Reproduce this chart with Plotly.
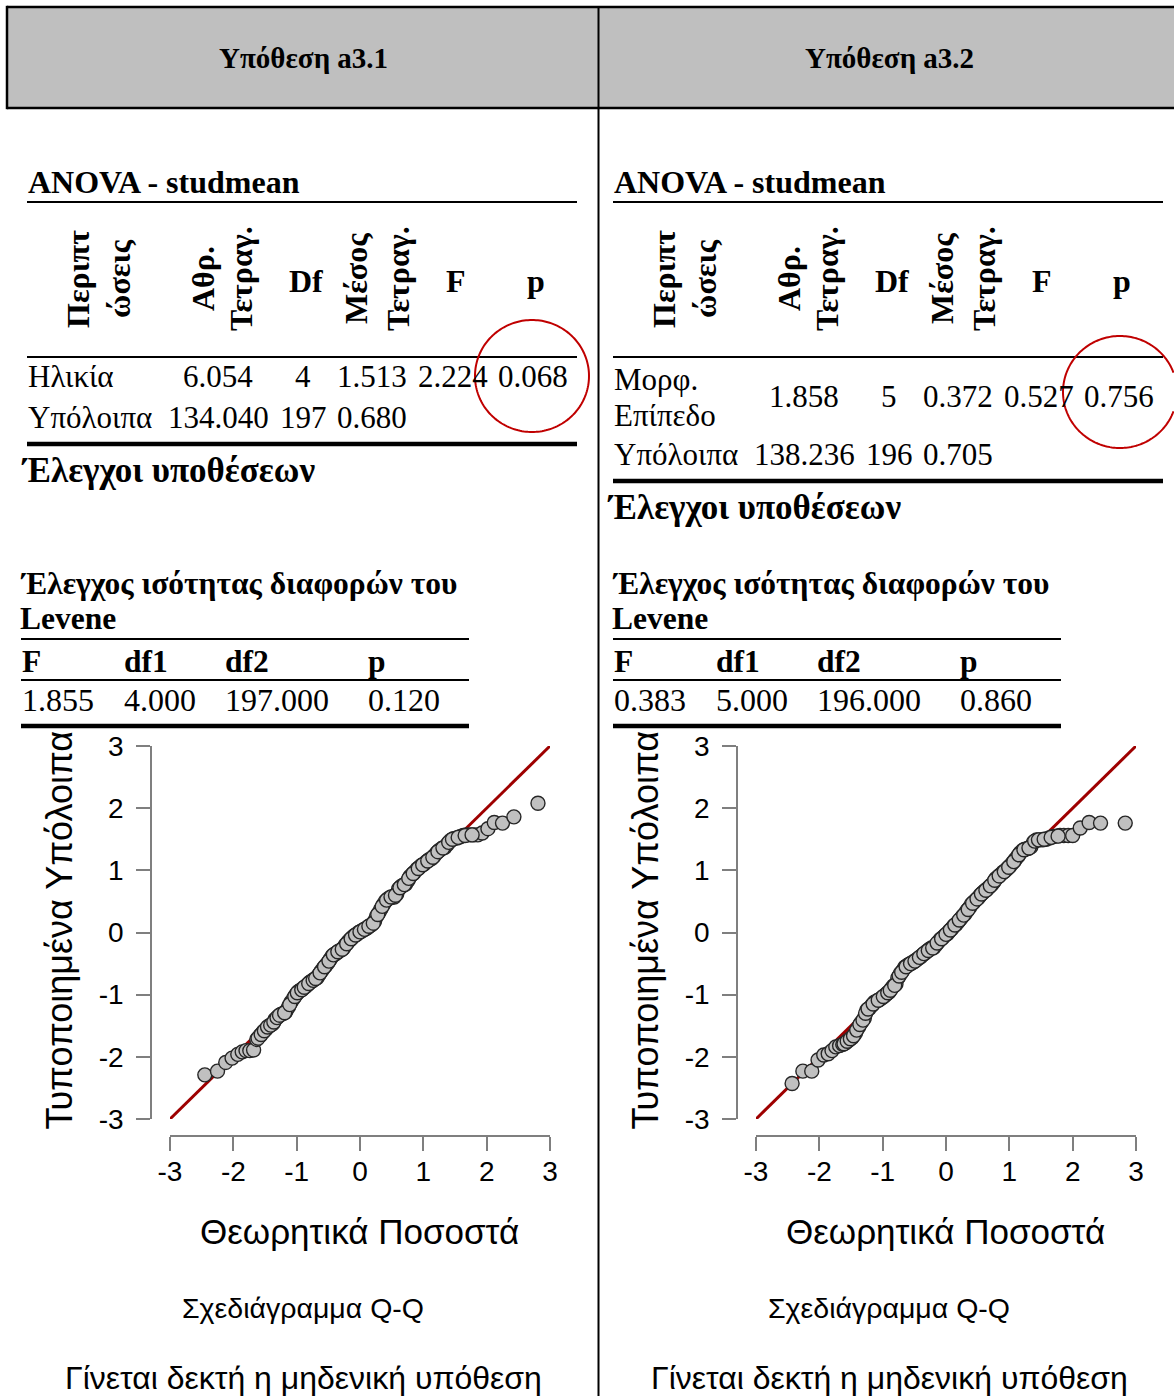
import math
import plotly.graph_objects as go

W, H = 1174, 1396
def X(px): return px / W
def Y(py): return 1 - py / H

SERIF = "Liberation Serif, Times New Roman, serif"
SANS = "Liberation Sans, Arial, sans-serif"

# ---------------- data ----------------
hyp_titles = ["Υπόθεση a3.1", "Υπόθεση a3.2"]
anova_title = "ANOVA - studmean"
anova_cols = [["Περιπτ", "ώσεις"], ["Αθρ.", "Τετραγ."], ["Df"], ["Μέσος", "Τετραγ."], ["F"], ["p"]]
anova1_rows = [["Ηλικία", "6.054", "4", "1.513", "2.224", "0.068"],
               ["Υπόλοιπα", "134.040", "197", "0.680", "", ""]]
anova2_rows = [["Μορφ.\nΕπίπεδο", "1.858", "5", "0.372", "0.527", "0.756"],
               ["Υπόλοιπα", "138.236", "196", "0.705", "", ""]]
tests_title = "Έλεγχοι υποθέσεων"
levene_title = ["Έλεγχος ισότητας διαφορών του", "Levene"]
levene_cols = ["F", "df1", "df2", "p"]
levene1 = ["1.855", "4.000", "197.000", "0.120"]
levene2 = ["0.383", "5.000", "196.000", "0.860"]
tick_vals = [-3, -2, -1, 0, 1, 2, 3]
tick_text = ["-3", "-2", "-1", "0", "1", "2", "3"]
x_title = "Θεωρητικά Ποσοστά"
y_title = "Τυποποιημένα Υπόλοιπα"
plot_caption = "Σχεδιάγραμμα Q-Q"
conclusion = "Γίνεται δεκτή η μηδενική υπόθεση"

theo_a31 = [-2.45, -2.25, -2.12, -2.02, -1.93, -1.86, -1.80, -1.74, -1.68, -1.63, -1.58, -1.53, -1.48,
            -1.43, -1.38, -1.34, -1.29, -1.25, -1.21, -1.17, -1.13, -1.09, -1.05, -1.01, -0.97, -0.94,
            -0.90, -0.86, -0.83, -0.79, -0.76, -0.72, -0.68, -0.65, -0.61, -0.58, -0.54, -0.51, -0.47,
            -0.44, -0.40, -0.37, -0.33, -0.30, -0.26, -0.23, -0.19, -0.16, -0.12, -0.09, -0.05, -0.02,
            0.02, 0.05, 0.09, 0.12, 0.16, 0.19, 0.23, 0.26, 0.30, 0.33, 0.37, 0.40, 0.44, 0.47, 0.51,
            0.54, 0.58, 0.61, 0.65, 0.68, 0.72, 0.76, 0.79, 0.83, 0.86, 0.90, 0.94, 0.97, 1.01, 1.05,
            1.09, 1.13, 1.17, 1.21, 1.25, 1.29, 1.34, 1.38, 1.43, 1.48, 1.53, 1.58, 1.63, 1.68, 1.74,
            1.80, 1.86, 1.93, 2.02, 2.12, 2.25, 2.43, 2.81,
            -1.61, -1.56, -1.51, -1.46, -1.41, -1.36, -1.31, -1.27, -1.19, -1.11, -1.03, -0.99, -0.92,
            -0.88, -0.81, -0.74, -0.70, -0.63, -0.56, -0.49, -0.42, -0.35, -0.28, -0.21, -0.14, -0.07,
            0.00, 0.07, 0.14, 0.21, 0.28, 0.35, 0.42, 0.49, 0.56, 0.63, 0.70, 0.77, 0.84, 0.92, 0.99,
            1.07, 1.15, 1.23, 1.31, 1.40, 1.46, 1.55, 1.66, 1.77]
resid_a31 = [-2.29, -2.23, -2.09, -2.02, -1.96, -1.92, -1.90, -1.90, -1.89, -1.72, -1.66, -1.60, -1.55,
             -1.50, -1.47, -1.40, -1.35, -1.32, -1.30, -1.27, -1.20, -1.12, -1.06, -1.00, -0.95, -0.93,
             -0.90, -0.87, -0.84, -0.80, -0.78, -0.75, -0.73, -0.68, -0.62, -0.58, -0.53, -0.49, -0.43,
             -0.38, -0.35, -0.33, -0.30, -0.28, -0.25, -0.20, -0.15, -0.12, -0.08, -0.05, -0.03, 0.00,
             0.02, 0.04, 0.06, 0.08, 0.11, 0.13, 0.18, 0.26, 0.32, 0.38, 0.45, 0.50, 0.54, 0.56, 0.57,
             0.57, 0.62, 0.70, 0.74, 0.76, 0.78, 0.84, 0.90, 0.94, 0.97, 1.02, 1.05, 1.08, 1.10, 1.14,
             1.17, 1.19, 1.23, 1.28, 1.32, 1.35, 1.37, 1.42, 1.48, 1.51, 1.52, 1.54, 1.56, 1.57, 1.57,
             1.57, 1.57, 1.60, 1.67, 1.77, 1.76, 1.86, 2.08,
             -1.70, -1.64, -1.58, -1.52, -1.49, -1.44, -1.37, -1.33, -1.29, -1.16, -1.03, -0.97, -0.92,
             -0.88, -0.82, -0.77, -0.74, -0.65, -0.55, -0.46, -0.36, -0.31, -0.27, -0.18, -0.10, -0.04,
             0.01, 0.05, 0.10, 0.15, 0.29, 0.42, 0.52, 0.57, 0.60, 0.72, 0.77, 0.87, 0.95, 1.03, 1.09,
             1.15, 1.21, 1.30, 1.36, 1.45, 1.50, 1.53, 1.56, 1.57]

theo_a32 = [-2.43, -2.26, -2.12, -2.02, -1.93, -1.86, -1.80, -1.74, -1.68, -1.63, -1.58, -1.53, -1.48,
            -1.43, -1.38, -1.34, -1.29, -1.25, -1.21, -1.17, -1.13, -1.09, -1.05, -1.01, -0.97, -0.94,
            -0.90, -0.86, -0.83, -0.79, -0.76, -0.72, -0.68, -0.65, -0.61, -0.58, -0.54, -0.51, -0.47,
            -0.44, -0.40, -0.37, -0.33, -0.30, -0.26, -0.23, -0.19, -0.16, -0.12, -0.09, -0.05, -0.02,
            0.02, 0.05, 0.09, 0.12, 0.16, 0.19, 0.23, 0.26, 0.30, 0.33, 0.37, 0.40, 0.44, 0.47, 0.51,
            0.54, 0.58, 0.61, 0.65, 0.68, 0.72, 0.76, 0.79, 0.83, 0.86, 0.90, 0.94, 0.97, 1.01, 1.05,
            1.09, 1.13, 1.17, 1.21, 1.25, 1.29, 1.34, 1.38, 1.43, 1.48, 1.53, 1.58, 1.63, 1.68, 1.74,
            1.80, 1.86, 1.93, 2.00, 2.12, 2.26, 2.44, 2.83,
            -1.61, -1.56, -1.51, -1.46, -1.41, -1.36, -1.31, -1.27, -1.23, -1.15, -1.07, -0.99, -0.92,
            -0.88, -0.81, -0.74, -0.70, -0.63, -0.56, -0.49, -0.42, -0.35, -0.28, -0.21, -0.14, -0.07,
            0.00, 0.07, 0.14, 0.21, 0.28, 0.35, 0.42, 0.49, 0.56, 0.63, 0.70, 0.77, 0.84, 0.92, 0.99,
            1.07, 1.15, 1.23, 1.31, 1.40, 1.46, 1.55, 1.66, 1.77]
resid_a32 = [-2.43, -2.23, -2.23, -2.05, -1.97, -1.95, -1.90, -1.84, -1.82, -1.80, -1.77, -1.73, -1.69,
             -1.62, -1.52, -1.45, -1.38, -1.25, -1.22, -1.17, -1.12, -1.10, -1.08, -1.05, -1.02, -0.99,
             -0.96, -0.90, -0.86, -0.83, -0.73, -0.66, -0.61, -0.56, -0.53, -0.51, -0.49, -0.47, -0.44,
             -0.42, -0.39, -0.36, -0.33, -0.30, -0.27, -0.25, -0.24, -0.20, -0.15, -0.11, -0.08, -0.05,
             -0.02, 0.02, 0.06, 0.10, 0.13, 0.17, 0.22, 0.26, 0.30, 0.35, 0.40, 0.45, 0.49, 0.52, 0.56,
             0.60, 0.64, 0.67, 0.70, 0.73, 0.77, 0.82, 0.87, 0.90, 0.93, 0.97, 1.00, 1.03, 1.07, 1.12,
             1.17, 1.22, 1.28, 1.32, 1.34, 1.35, 1.38, 1.45, 1.49, 1.49, 1.49, 1.50, 1.52, 1.54, 1.55,
             1.56, 1.56, 1.56, 1.56, 1.68, 1.77, 1.76, 1.76,
             -1.79, -1.75, -1.71, -1.66, -1.57, -1.48, -1.41, -1.30, -1.23, -1.15, -1.09, -1.03, -0.97,
             -0.93, -0.85, -0.70, -0.64, -0.55, -0.50, -0.46, -0.40, -0.34, -0.29, -0.25, -0.17, -0.10,
             -0.03, 0.04, 0.12, 0.20, 0.28, 0.37, 0.47, 0.54, 0.62, 0.68, 0.75, 0.84, 0.91, 0.98, 1.05,
             1.14, 1.25, 1.33, 1.36, 1.47, 1.49, 1.50, 1.53, 1.55]

# ---------------- figure ----------------
fig = go.Figure()
shapes = []
ann = []

def text(px, py, s, size, family=SERIF, bold=False, xanchor="left", yanchor="middle", angle=0):
    if bold:
        s = "<b>" + s + "</b>"
    ann.append(dict(x=X(px), y=Y(py), xref="paper", yref="paper", text=s, showarrow=False,
                    xanchor=xanchor, yanchor=yanchor, textangle=angle,
                    font=dict(family=family, size=size, color="black")))

def line(x0, y0, x1, y1, w, color="black"):
    shapes.append(dict(type="line", xref="paper", yref="paper", x0=X(x0), x1=X(x1), y0=Y(y0), y1=Y(y1),
                       line=dict(color=color, width=w)))

def hline(x0, x1, py, w):
    line(x0, py, x1, py, w)

def ellipse_path(cx, cy, rx, ry, xmax):
    n = 180
    if cx + rx <= xmax:
        angs = [2 * math.pi * i / n for i in range(n + 1)]
    else:
        t0 = math.acos((xmax - cx) / rx)
        angs = [t0 + (2 * math.pi - 2 * t0) * i / n for i in range(n + 1)]
    pts = [(X(cx + rx * math.cos(a)), Y(cy + ry * math.sin(a))) for a in angs]
    return "M " + " L ".join(f"{px:.5f},{py:.5f}" for px, py in pts)

# header band
shapes.append(dict(type="rect", xref="paper", yref="paper", x0=X(7), x1=1, y0=Y(108), y1=Y(7),
                   fillcolor="#BFBFBF", line=dict(width=0), layer="below"))
line(7, 7, W, 7, 2.5)
line(7, 108, W, 108, 2.5)
line(7, 5.8, 7, 109.2, 2.5)
line(598.5, 7, 598.5, H, 2)

panels = [
    dict(dx=0, ldx=0, title=hyp_titles[0], rows=anova1_rows, lev=levene1, tests_y=471,
         row_y=[377, 417], thick_y=444, circle=(532, 376)),
    dict(dx=586, ldx=592, title=hyp_titles[1], rows=anova2_rows, lev=levene2, tests_y=508,
         row_y=[397, 455], thick_y=481, circle=(1120, 392)),
]
head_x = [[78, 119], [203, 241], [306], [356, 398], [456], [536]]
val_x = [218, 303, 372, 453, 533]
lev_x = [20, 122, 223, 366]

for k, p in enumerate(panels):
    dx, ldx = p["dx"], p["ldx"]
    text(303 + dx, 58, p["title"], 29, bold=True, xanchor="center")
    text(26 + dx, 182, anova_title, 32, bold=True)
    hline(27 + dx, 577 + dx, 202, 2)
    for col, xs in zip(anova_cols, head_x):
        for ln, xc in zip(col, xs):
            if len(col) == 1:
                text(xc + dx, 281, ln, 32, bold=True, xanchor="center")
            else:
                text(xc + dx, 279, ln, 32, bold=True, xanchor="center", angle=-90)
    hline(27 + dx, 577 + dx, 357, 2)
    for row, ry in zip(p["rows"], p["row_y"]):
        lbl = row[0].split("\n")
        if len(lbl) == 1:
            text(26 + dx, ry, lbl[0], 31)
        else:
            text(26 + dx, ry - 18, lbl[0], 31)
            text(26 + dx, ry + 18, lbl[1], 31)
        for v, xc in zip(row[1:], val_x):
            if v:
                text(xc + dx, ry, v, 31, xanchor="center")
    hline(27 + dx, 577 + dx, p["thick_y"], 4.5)
    cx, cy = p["circle"]
    shapes.append(dict(type="path", xref="paper", yref="paper", path=ellipse_path(cx, cy, 57, 56, W - 0.5),
                       line=dict(color="#C00000", width=2)))
    text(19 + dx, p["tests_y"], tests_title, 35, bold=True)
    text(18 + ldx, 583, levene_title[0], 31.5, bold=True)
    text(18 + ldx, 618, levene_title[1], 31.5, bold=True)
    hline(21 + ldx, 469 + ldx, 639, 2)
    for c, xc in zip(levene_cols, lev_x):
        text(xc + ldx, 661, c, 31.5, bold=True)
    hline(21 + ldx, 469 + ldx, 680, 2)
    for v, xc in zip(p["lev"], lev_x):
        text(xc + ldx, 700, v, 32)
    hline(21 + ldx, 469 + ldx, 726, 4.5)

    # QQ captions
    text(59 + dx, 1132, y_title, 36, family=SANS, xanchor="center", yanchor="bottom", angle=-90)
    text(359 + dx, 1231, x_title, 35, family=SANS, xanchor="center")
    text(303 + dx, 1308, plot_caption, 28.5, family=SANS, xanchor="center")
    text(303 + dx, 1378, conclusion, 32, family=SANS, xanchor="center")

# QQ traces
for k, (tx, ry) in enumerate([(theo_a31, resid_a31), (theo_a32, resid_a32)]):
    xa = "x" if k == 0 else "x2"
    ya = "y" if k == 0 else "y2"
    fig.add_trace(go.Scatter(x=[tick_vals[0], tick_vals[-1]], y=[tick_vals[0], tick_vals[-1]],
                             mode="lines", line=dict(color="#9E0000", width=3),
                             xaxis=xa, yaxis=ya, showlegend=False, hoverinfo="skip"))
    fig.add_trace(go.Scatter(x=tx, y=ry, mode="markers",
                             marker=dict(size=14, color="#C0C0C0", line=dict(color="#262626", width=1.4)),
                             xaxis=xa, yaxis=ya, showlegend=False))

def xaxis_cfg(dx):
    return dict(domain=[X(170 + dx), X(550 + dx)], range=[-3, 3], anchor="free", position=Y(1136),
                tickvals=tick_vals, ticktext=tick_text, ticks="outside", ticklen=14, tickcolor="#7F7F7F",
                tickwidth=1.5, showline=True, linecolor="#7F7F7F", linewidth=1.5, showgrid=False,
                zeroline=False, tickfont=dict(family=SANS, size=28, color="black"),
                ticklabelstandoff=-3, automargin=False, fixedrange=True)

def yaxis_cfg(dx):
    return dict(domain=[Y(1119), Y(746)], range=[-3, 3], anchor="free", position=X(151 + dx),
                tickvals=tick_vals, ticktext=tick_text, ticks="outside", ticklen=14, tickcolor="#7F7F7F",
                tickwidth=1.5, showline=True, linecolor="#7F7F7F", linewidth=1.5, showgrid=False,
                zeroline=False, tickfont=dict(family=SANS, size=28, color="black"),
                ticklabelstandoff=7, automargin=False, fixedrange=True)

fig.update_layout(
    width=W, height=H, margin=dict(l=0, r=0, t=0, b=0, pad=0, autoexpand=False),
    paper_bgcolor="white", plot_bgcolor="white",
    xaxis=xaxis_cfg(0), yaxis=yaxis_cfg(0),
    xaxis2=xaxis_cfg(586), yaxis2=yaxis_cfg(586),
    shapes=shapes, annotations=ann, showlegend=False,
)

fig.write_html(
    "out.html",
    post_script=("document.documentElement.style.overflow='hidden';"
                 "document.body.style.margin='0px';document.body.style.overflow='hidden';"),
)
